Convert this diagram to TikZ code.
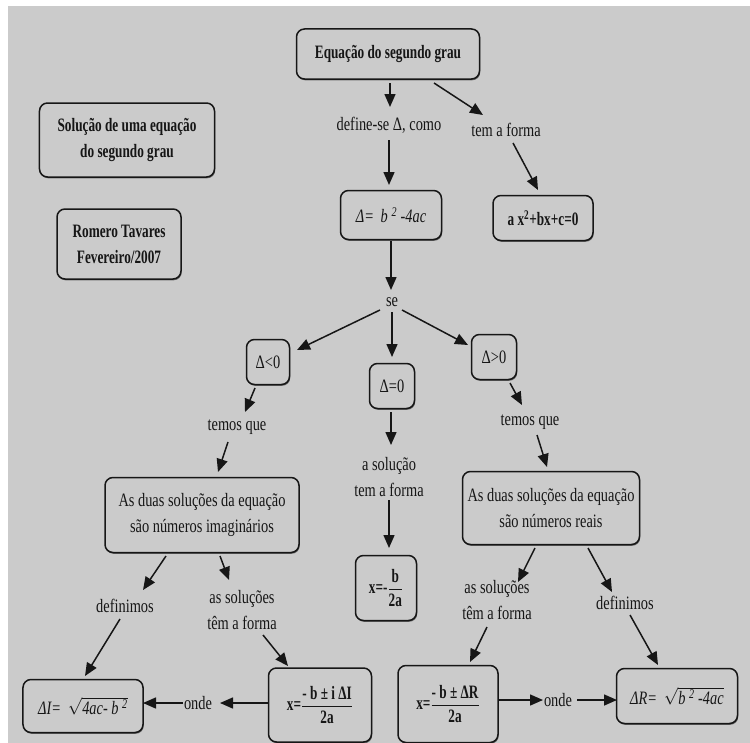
\documentclass[tikz,border=0pt]{standalone}
\usepackage{fontspec}
\usepackage{amsmath}
\setmainfont{Liberation Serif}[FakeStretch=0.76,BoldFeatures={FakeStretch=0.7}]
\usetikzlibrary{arrows.meta,calc,shadows}
\definecolor{paper}{RGB}{203,203,203}
\definecolor{ink}{RGB}{22,22,22}
% bold fraction with a heavy rule
\newcommand{\bfrac}[2]{$\genfrac{}{}{1.3pt}{0}{\mbox{#1}}{\mbox{#2}}$}

\begin{document}
\begin{tikzpicture}[x=1bp,y=-1bp,
  every node/.style={text=ink, font=\fontsize{19}{24}\selectfont},
  box/.style={draw=ink, fill=paper, line width=1.5bp, rounded corners=8bp,
    align=center, inner sep=0pt,
    drop shadow={shadow xshift=0.7bp, shadow yshift=-1.3bp, fill=ink, opacity=0.55}},
  lbl/.style={align=center, inner sep=0pt},
  arr/.style={draw=ink, line width=1.5bp, -{Triangle[length=13bp,width=11bp]}},
]
% page and grey canvas
\fill[white] (0,0) rectangle (750,743);
\fill[paper] (8,6) rectangle (750,743);
\useasboundingbox (0,0) rectangle (750,743);

% heading boxes on the left
\node[box, minimum width=175bp, minimum height=74bp, font=\fontsize{19}{26}\selectfont\bfseries]
  (title) at (127,140) {Solução de uma equação\\do segundo grau};
\node[box, minimum width=124bp, minimum height=70bp, font=\fontsize{19}{26}\selectfont\bfseries]
  (author) at (119,244) {Romero Tavares\\Fevereiro/2007};

% top of the map
\node[box, minimum width=183bp, minimum height=50bp, font=\fontsize{19}{24}\selectfont\bfseries]
  (eq) at (388,54) {Equação do segundo grau};
\node[lbl] (def) at (389,125) {define-se Δ, como};
\node[lbl] (tem) at (506,130) {tem a forma};
\node[box, minimum width=101bp, minimum height=49bp, font=\fontsize{19}{24}\selectfont\itshape]
  (delta) at (391,215) {Δ=\, b \textsuperscript{2} -4ac};
\node[box, minimum width=100bp, minimum height=45bp, font=\fontsize{19}{24}\selectfont\bfseries]
  (std) at (543,218) {a x\textsuperscript{2}+bx+c=0};
\node[lbl] (se) at (392,302) {se};

% the three cases
\node[box, minimum width=43bp, minimum height=45bp] (neg) at (268,362) {Δ<0};
\node[box, minimum width=45bp, minimum height=45bp] (zero) at (392,386) {Δ=0};
\node[box, minimum width=45bp, minimum height=45bp] (pos) at (494,357) {Δ>0};

\node[lbl] (tql) at (237,427) {temos que};
\node[lbl] (tqr) at (530,422) {temos que};
\node[lbl, font=\fontsize{19}{26}\selectfont] (sol0) at (389,477) {a solução\\tem a forma};

\node[box, minimum width=194bp, minimum height=75bp, font=\fontsize{19}{26}\selectfont]
  (imag) at (202,515) {As duas soluções da equação\\são números imaginários};
\node[box, minimum width=177bp, minimum height=73bp, font=\fontsize{19}{26}\selectfont]
  (real) at (551,508) {As duas soluções da equação\\são números reais};
\node[box, minimum width=61bp, minimum height=65bp, font=\fontsize{19}{24}\selectfont\bfseries]
  (x0) at (386,588) {x=-\bfrac{b}{2a}};

% lower left branch
\node[lbl] (defl) at (125,606) {definimos};
\node[lbl, font=\fontsize{19}{26}\selectfont] (asl) at (242,610) {as soluções\\têm a forma};
\node[box, minimum width=120bp, minimum height=53bp, font=\fontsize{19}{24}\selectfont\itshape]
  (dI) at (83,706) {ΔI=\, $\sqrt{\mbox{4ac- b \textsuperscript{2}}}$};
\node[box, minimum width=103bp, minimum height=74bp, font=\fontsize{19}{24}\selectfont\bfseries]
  (xI) at (320,705) {x=\bfrac{- b ± i ΔI}{2a}};
\node[lbl] (ondel) at (198,703) {onde};

% lower right branch
\node[lbl, font=\fontsize{19}{26}\selectfont] (asr) at (497,600) {as soluções\\têm a forma};
\node[lbl] (defr) at (625,603) {definimos};
\node[box, minimum width=100bp, minimum height=77bp, font=\fontsize{19}{24}\selectfont\bfseries]
  (xR) at (448,704) {x=\bfrac{- b ± ΔR}{2a}};
\node[lbl] (onder) at (558,700) {onde};
\node[box, minimum width=121bp, minimum height=55bp, font=\fontsize{19}{24}\selectfont\itshape]
  (dR) at (677,696) {ΔR=\, $\sqrt{\mbox{b \textsuperscript{2} -4ac}}$};

% connectors
\draw[arr] ($(eq)+(2,29)$) -- ($(def)+(1,-18)$);
\draw[arr] ($(eq)+(46,29)$) -- ($(tem)+(-23,-15)$);
\draw[arr] ($(def)+(0,15)$) -- ($(delta)+(-2,-30)$);
\draw[arr] ($(tem)+(7,13)$) -- ($(std)+(-5,-28)$);
\draw[arr] ($(delta)+(0,26)$) -- ($(se)+(-1,-12)$);
\draw[arr] ($(se)+(-12,8)$) -- ($(neg)+(29,-12)$);
\draw[arr] ($(se)+(0,10)$) -- ($(zero)+(0,-29)$);
\draw[arr] ($(se)+(10,8)$) -- ($(pos)+(-26,-12)$);
\draw[arr] ($(neg)+(-13,26)$) -- ($(tql)+(8,-15)$);
\draw[arr] ($(tql)+(-9,15)$) -- ($(imag)+(16,-43)$);
\draw[arr] ($(zero)+(-1,26)$) -- ($(sol0)+(2,-32)$);
\draw[arr] ($(sol0)+(0,23)$) -- ($(x0)+(3,-40)$);
\draw[arr] ($(pos)+(16,26)$) -- ($(tqr)+(-8,-17)$);
\draw[arr] ($(tqr)+(7,13)$) -- ($(real)+(-4,-41)$);
\draw[arr] ($(imag)+(-36,41)$) -- ($(defl)+(18,-16)$);
\draw[arr] ($(imag)+(18,41)$) -- ($(asl)+(-13,-30)$);
\draw[arr] ($(defl)+(-5,13)$) -- ($(dI)+(2,-30)$);
\draw[arr] ($(asl)+(21,25)$) -- ($(xI)+(-32,-39)$);
\draw[arr] ($(xI)+(-52,-2)$) -- ($(ondel)+(22,0)$);
\draw[arr] ($(ondel)+(-15,0)$) -- ($(dI)+(60,-3)$);
\draw[arr] ($(real)+(-16,40)$) -- ($(asr)+(21,-18)$);
\draw[arr] ($(real)+(37,40)$) -- ($(defr)+(-13,-11)$);
\draw[arr] ($(asr)+(-10,27)$) -- ($(xR)+(22,-42)$);
\draw[arr] ($(defr)+(5,12)$) -- ($(dR)+(-19,-31)$);
\draw[arr] ($(xR)+(51,-4)$) -- ($(onder)+(-15,0)$);
\draw[arr] ($(onder)+(19,0)$) -- ($(dR)+(-60,4)$);
\end{tikzpicture}
\end{document}
